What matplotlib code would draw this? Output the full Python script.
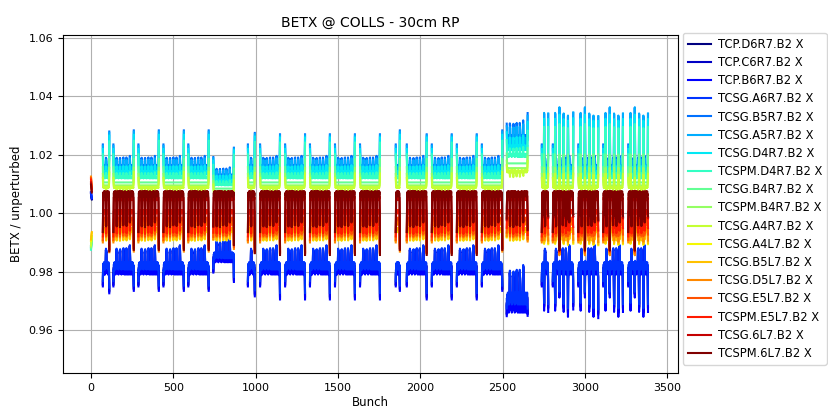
import numpy as np
import matplotlib
matplotlib.use('Agg')
import matplotlib.pyplot as plt

# collimators (legend order)
collimators = ['TCP.D6R7.B2 X', 'TCP.C6R7.B2 X', 'TCP.B6R7.B2 X', 'TCSG.A6R7.B2 X',
               'TCSG.B5R7.B2 X', 'TCSG.A5R7.B2 X', 'TCSG.D4R7.B2 X', 'TCSPM.D4R7.B2 X',
               'TCSG.B4R7.B2 X', 'TCSPM.B4R7.B2 X', 'TCSG.A4R7.B2 X', 'TCSG.A4L7.B2 X',
               'TCSG.B5L7.B2 X', 'TCSG.D5L7.B2 X', 'TCSG.E5L7.B2 X', 'TCSPM.E5L7.B2 X',
               'TCSG.6L7.B2 X', 'TCSPM.6L7.B2 X']

# BETX/unperturbed - 1 in the middle of a train
mid_level = [-0.019, -0.0192, -0.0195, -0.018, 0.0158, 0.0152, 0.0138, 0.0122, 0.0105,
             0.0095, 0.0088, -0.0062, -0.0055, -0.0035, -0.002, 0.0005, 0.0052, 0.0066]
# extra offset on the last bunch of a train
edge_level = [-0.008, -0.0082, -0.0085, -0.008, 0.0118, 0.012, 0.0125, 0.0122, 0.008,
              0.006, 0.005, -0.005, -0.006, -0.010, -0.011, -0.013, -0.018, -0.020]
# bump where sub-batches join inside a train
ripple_level = [0.0065, 0.0068, 0.007, 0.006, 0.0032, 0.003, 0.0022, 0.0015, 0.0,
                0.0, -0.001, -0.003, -0.0035, -0.0045, -0.0055, -0.007, -0.009, -0.0105]
# pilot bunches at bunch 0
pilot_level = [0.0065, 0.0068, 0.007, 0.0072, -0.011, -0.0115, -0.012, -0.0125, -0.012,
               -0.0115, -0.011, -0.0095, -0.009, 0.0125, 0.012, 0.0115, 0.0105, 0.0098]
# how strongly the big sub-batch spikes (last group) hit each collimator
spike_level = [1.7, 1.7, 1.75, 1.7, 1.5, 1.55, 1.45, 1.4, 1.2, 1.0, 0.9, 0.9, 0.8,
               0.6, 0.5, 0.45, 0.4, 0.4]
# bunch-to-bunch texture strength
texture_level = [0.3] * 11 + [0.12] * 7
is_r7 = [True] * 11 + [False] * 7

pilot_bunch = [0, 1, 2, 3, 4, 5]
pilot_shape = [1.0, 0.92, 0.85, 0.8, 0.76, 0.72]

# trains: first bunch, number of bunches, scale of the R7 beat, edge scale, big spikes
train_start = [72, 136, 288, 440, 591, 743,
               953, 1027, 1179, 1330, 1482, 1634,
               1851, 1918, 2070, 2222, 2374, 2525,
               2738, 2805, 2960, 3111, 3263]
train_len = [40, 125, 125, 125, 125, 126,
             43, 122, 122, 122, 122, 122,
             26, 122, 122, 122, 125, 128,
             40, 125, 122, 121, 121]
train_r7_scale = [1.0, 1.0, 1.0, 1.0, 1.0, 0.8,
                  1.0, 1.0, 1.0, 1.0, 1.0, 1.0,
                  1.0, 1.0, 1.0, 1.0, 1.0, 1.62,
                  1.0, 1.0, 1.0, 1.0, 1.0]
train_edge_scale = [1.0, 1.0, 1.0, 1.0, 1.0, 0.85,
                    1.0, 1.0, 1.0, 1.0, 1.0, 1.0,
                    1.0, 1.0, 1.0, 1.0, 1.0, 0.65,
                    1.0, 1.0, 1.0, 1.0, 1.0]
train_spikes = [False] * 18 + [True] * 5

head_edge = [0.65, 0.3, 0.1]
tail_edge = [0.1, 0.35, 1.0]
ripple_pos = [20, 40, 60, 80, 100]
bump = [0.35, 0.8, 1.0, 0.8, 0.35]
spike_pos = [14, 40, 66, 92]
spike = [0.3, 1.0, 0.3]
texture = [0.0, 0.6, -0.5, 0.3, -0.7, 0.5, -0.2, 0.7, -0.4]

colors = plt.cm.jet(np.linspace(0, 1, len(collimators)))

fig = plt.figure(figsize=(8.29, 4.09), dpi=100)
ax = fig.add_axes([0.076, 0.088, 0.742, 0.826])

for i, name in enumerate(collimators):
    xs = list(pilot_bunch)
    ys = [1 + pilot_level[i] * s for s in pilot_shape]
    for t in range(len(train_start)):
        n = train_len[t]
        sc = train_r7_scale[t] if is_r7[i] else 1.0
        edge = np.zeros(n)
        edge[:3] += head_edge
        edge[-3:] += tail_edge
        if train_spikes[t]:
            edge[-1] *= spike_level[i]
            for p in spike_pos:
                if p + 2 < n - 6:
                    edge[p - 1:p + 2] += np.array(spike) * spike_level[i]
        rip = np.zeros(n)
        for p in ripple_pos:
            if p + 3 < n - 6:
                rip[p - 2:p + 3] += bump
        tex = np.array([texture[k % len(texture)] for k in range(n)])
        vals = (1 + sc * (mid_level[i] + ripple_level[i] * rip
                          + texture_level[i] * abs(ripple_level[i]) * tex)
                + train_edge_scale[t] * edge_level[i] * edge)
        xs += [np.nan] + list(range(train_start[t], train_start[t] + n))
        ys += [np.nan] + list(vals)
    ax.plot(xs, ys, color=colors[i], label=name, lw=1.5)

ax.set_xlim(-170, 3566)
ax.set_ylim(0.9454, 1.0608)
ax.grid(True)
ax.tick_params(labelsize=8)
ax.set_title('BETX @ COLLS - 30cm RP', fontsize=10)
ax.set_xlabel('Bunch', fontsize=8.5, labelpad=2)
ax.set_ylabel('BETX / unperturbed', fontsize=8.5)
ax.legend(loc='upper left', bbox_to_anchor=(1.008, 1.006), borderaxespad=0,
          fontsize=8.3, handletextpad=0.6, labelspacing=0.45)

fig.savefig('out.png', dpi=100)
